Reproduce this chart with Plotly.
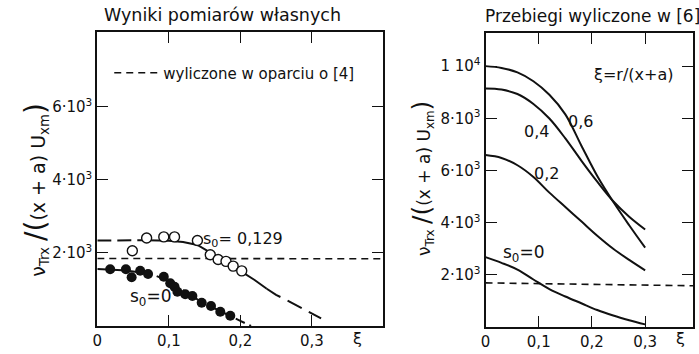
import plotly.graph_objects as go

# ---------------- data ----------------
# left panel: own measurements
xi_open = [0.049, 0.069, 0.093, 0.108, 0.140, 0.158, 0.169, 0.180, 0.190, 0.202]
v_open = [2060, 2410, 2440, 2440, 2340, 1950, 1820, 1770, 1640, 1510]

xi_filled = [0.018, 0.040, 0.048, 0.060, 0.071, 0.093, 0.102, 0.108, 0.112, 0.123,
             0.133, 0.146, 0.159, 0.172, 0.186]
v_filled = [1553, 1553, 1334, 1515, 1425, 1351, 1170, 1077, 940, 868,
            822, 638, 548, 392, 282]

xi_c129 = [0, 0.02, 0.04, 0.06, 0.07, 0.08, 0.10, 0.12, 0.14, 0.16, 0.18, 0.20,
           0.22, 0.237, 0.25, 0.26, 0.28, 0.30, 0.313]
v_c129 = [2340, 2345, 2350, 2350, 2350, 2348, 2335, 2300, 2220, 1990, 1760, 1510,
          1260, 1020, 850, 760, 550, 360, 210]

xi_c0 = [0, 0.02, 0.04, 0.06, 0.08, 0.10, 0.12, 0.14, 0.16, 0.18, 0.20, 0.215]
v_c0 = [1560, 1550, 1520, 1470, 1390, 1230, 970, 730, 520, 340, 140, 0]

xi_ref_left = [0, 0.4]
v_ref_left = [1850, 1840]

# right panel: computed in [6]
xi_r = [0, 0.03, 0.06, 0.09, 0.12, 0.15, 0.18, 0.21, 0.24, 0.27, 0.30]
v_r06 = [10000, 9930, 9760, 9420, 8900, 8150, 6960, 5790, 4800, 3900, 3040]
v_r04 = [9140, 9100, 8930, 8550, 7990, 7230, 6380, 5570, 4820, 4230, 3740]
v_r02 = [6590, 6480, 6200, 5750, 5150, 4600, 4050, 3500, 3000, 2570, 2170]
v_r00 = [2680, 2460, 2200, 1820, 1450, 1170, 910, 650, 440, 260, 100]

xi_ref_right = [0, 0.39]
v_ref_right = [1690, 1580]

x_ticks = [0, 0.1, 0.2, 0.3]
x_ticktext = ["0", "0,1", "0,2", "0,3"]
yl_ticks = [2000, 4000, 6000]
yl_ticktext = ["2·10<sup>3</sup>", "4·10<sup>3</sup>", "6·10<sup>3</sup>"]
yr_ticks = [2000, 4000, 6000, 8000, 10000]
yr_ticktext = ["2·10<sup>3</sup>", "4·10<sup>3</sup>", "6·10<sup>3</sup>",
               "8·10<sup>3</sup>", "1 10<sup>4</sup>"]

FONT = "DejaVu Sans"
BLACK = "#111111"

fig = go.Figure()

# ---- left panel ----
fig.add_trace(go.Scatter(x=xi_ref_left, y=v_ref_left, mode="lines",
                         line=dict(color=BLACK, width=1.6, dash="7px,5px"),
                         name="wyliczone w oparciu o [4]", showlegend=True,
                         xaxis="x", yaxis="y"))
# s0 = 0.129 curve: dashed / solid / dashed segments
i1 = xi_c129.index(0.07)
i2 = xi_c129.index(0.237)
fig.add_trace(go.Scatter(x=xi_c129[:i1 + 1], y=v_c129[:i1 + 1], mode="lines",
                         line=dict(color=BLACK, width=2, dash="14px,6px"),
                         showlegend=False, xaxis="x", yaxis="y"))
fig.add_trace(go.Scatter(x=xi_c129[i1:i2 + 1], y=v_c129[i1:i2 + 1], mode="lines",
                         line=dict(color=BLACK, width=2),
                         showlegend=False, xaxis="x", yaxis="y"))
fig.add_trace(go.Scatter(x=xi_c129[i2:], y=v_c129[i2:], mode="lines",
                         line=dict(color=BLACK, width=2, dash="16px,8px"),
                         showlegend=False, xaxis="x", yaxis="y"))
# s0 = 0 curve
fig.add_trace(go.Scatter(x=xi_c0, y=v_c0, mode="lines",
                         line=dict(color=BLACK, width=2, dash="10px,5px"),
                         showlegend=False, xaxis="x", yaxis="y"))
fig.add_trace(go.Scatter(x=xi_open, y=v_open, mode="markers",
                         marker=dict(symbol="circle", size=10, color="white",
                                     line=dict(color=BLACK, width=1.4)),
                         showlegend=False, xaxis="x", yaxis="y"))
fig.add_trace(go.Scatter(x=xi_filled, y=v_filled, mode="markers",
                         marker=dict(symbol="circle", size=10, color=BLACK),
                         showlegend=False, xaxis="x", yaxis="y"))

# ---- right panel ----
fig.add_trace(go.Scatter(x=xi_ref_right, y=v_ref_right, mode="lines",
                         line=dict(color=BLACK, width=1.6, dash="7px,5px"),
                         showlegend=False, xaxis="x2", yaxis="y2"))
for vals in (v_r06, v_r04, v_r02, v_r00):
    fig.add_trace(go.Scatter(x=xi_r, y=vals, mode="lines", line_shape="spline",
                             line=dict(color=BLACK, width=2),
                             showlegend=False, xaxis="x2", yaxis="y2"))

axis_common = dict(showline=True, linecolor=BLACK, linewidth=2, mirror="ticks",
                   ticks="inside", ticklen=11, tickwidth=1.4, tickcolor=BLACK,
                   showgrid=False, zeroline=False,
                   tickfont=dict(family=FONT, size=15, color=BLACK))

fig.update_layout(
    width=699, height=354,
    margin=dict(l=0, r=0, t=0, b=0),
    paper_bgcolor="white", plot_bgcolor="white",
    font=dict(family=FONT, color=BLACK),
    xaxis=dict(domain=[0.1330, 0.5451], range=[0, 0.4], tickvals=x_ticks,
               ticktext=x_ticktext, anchor="y", **axis_common),
    yaxis=dict(domain=[0.0791, 0.9096], range=[0, 8050], tickvals=yl_ticks,
               ticktext=yl_ticktext, anchor="x", **axis_common),
    xaxis2=dict(domain=[0.6924, 0.9914], range=[0, 0.39], tickvals=x_ticks,
                ticktext=x_ticktext, anchor="y2", **axis_common),
    yaxis2=dict(domain=[0.0763, 0.9068], range=[0, 11270], tickvals=yr_ticks,
                ticktext=yr_ticktext, anchor="x2", **axis_common),
    legend=dict(x=105 / 699, y=1 - 73 / 354, xanchor="left", yanchor="middle",
                bgcolor="rgba(0,0,0,0)", itemwidth=44,
                font=dict(family=FONT, size=15, color=BLACK)),
)


def ylab(size):
    big = "<span style='font-size:%dpx'>%%s</span>" % size
    return ("ν<sub>Trx</sub> " + big % "/" + big % "(" +
            "(x + a) U<sub>xm</sub>" + big % ")")


def a(text, x, y, xref="paper", yref="paper", size=16, angle=0):
    if xref == "paper":
        x = x / 699
        y = 1 - y / 354
    return dict(text=text, x=x, y=y, xref=xref, yref=yref, showarrow=False,
                xanchor="center", yanchor="middle", textangle=angle,
                font=dict(size=size))


ann = [
    a("Wyniki pomiarów własnych", 219, 15, size=17.5),
    a("Przebiegi wyliczone w [6]", 592, 16, size=17),
    a(ylab(28), 30, 190, size=19, angle=-90),
    a(ylab(25), 420, 178, size=17, angle=-90),
    a("ξ", 355, 338),
    a("ξ", 680, 338),
    a("s<sub>0</sub>= 0,129", 0.204, 2356, "x", "y", size=16),
    a("s<sub>0</sub>=0", 0.075, 767, "x", "y", size=17),
    a("ξ=r/(x+a)", 0.2785, 9690, "x2", "y2"),
    a("0,6", 0.179, 7890, "x2", "y2"),
    a("0,4", 0.095, 7507, "x2", "y2"),
    a("0,2", 0.114, 5898, "x2", "y2"),
    a("s<sub>0</sub>=0", 0.073, 2834, "x2", "y2", size=17),
]
fig.update_layout(annotations=ann)

fig.write_html("out.html")
